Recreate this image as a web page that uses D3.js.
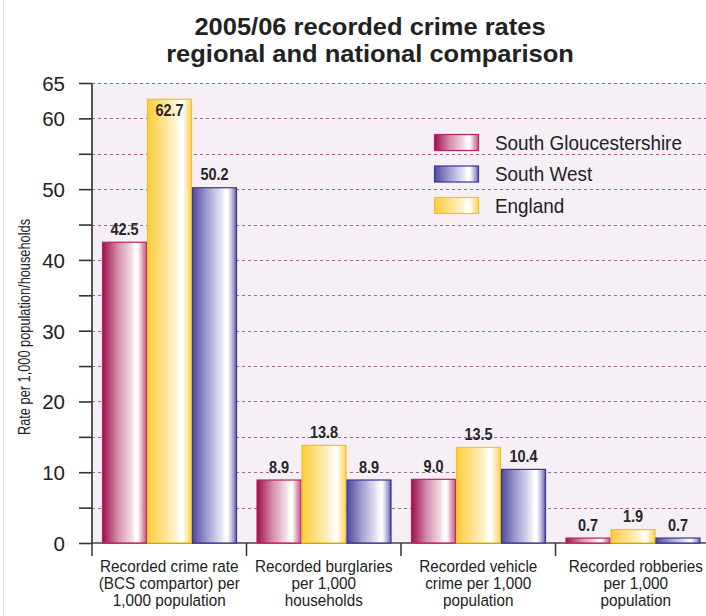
<!DOCTYPE html>
<html>
<head>
<meta charset="utf-8">
<script src="https://cdn.jsdelivr.net/npm/d3@7"></script>
<style>
  html, body { margin: 0; padding: 0; background: #ffffff; }
  svg { display: block; }
</style>
</head>
<body>
<svg id="chart" width="706" height="616"></svg>
<script>
// Crime rate categories (multi-line labels)
const categories = [
  ["Recorded crime rate", "(BCS compartor) per", "1,000 population"],
  ["Recorded burglaries", "per 1,000", "households"],
  ["Recorded vehicle", "crime per 1,000", "population"],
  ["Recorded robberies", "per 1,000", "population"]
];
// Series drawn left-to-right within each group
const seriesNames = ["South Gloucestershire", "England", "South West"];
const southGlos = [42.5, 8.9, 9.0, 0.7];
const england = [62.7, 13.8, 13.5, 1.9];
const southWest = [50.2, 8.9, 10.4, 0.7];
const legendOrder = ["South Gloucestershire", "South West", "England"];
const yTickLabels = [0, 10, 20, 30, 40, 50, 60, 65];

const seriesValues = {
  "South Gloucestershire": southGlos,
  "England": england,
  "South West": southWest
};

const palette = {
  "South Gloucestershire": { dark: "#a00e4c", mid: "#d58eab", light: "#f3dde6", edge: "#b8245f", rim: "#c8608a" },
  "South West": { dark: "#4f4a9f", mid: "#a5a2d1", light: "#e6e5f4", edge: "#3b3692", rim: "#5a56aa" },
  "England": { dark: "#fdcd3a", mid: "#fee18a", light: "#fff5d6", edge: "#f3bf2a", rim: "#fcd254" }
};

const FONT = "Liberation Sans, Arial, Helvetica, sans-serif";
const svg = d3.select("#chart");
const W = 706, H = 616;
const plotLeft = 92, plotTop = 83, plotBottom = 543;

const x0 = d3.scaleBand().domain(d3.range(categories.length)).range([plotLeft, 710]);
const x1 = d3.scaleBand().domain(seriesNames).range([10, 145]);
const y = d3.scaleLinear().domain([0, 65]).range([plotBottom, plotTop]);

// Place a text at (x, y) squeezed horizontally by sx (condensed face look)
function squeeze(sel, x, yy, sx) {
  return sel.attr("x", 0).attr("y", 0).attr("transform", `translate(${x},${yy}) scale(${sx},1)`);
}

// cylinder-like horizontal gradients
const defs = svg.append("defs");
Object.entries(palette).forEach(([name, c], i) => {
  const g = defs.append("linearGradient").attr("id", "grad" + i)
    .attr("x1", "0%").attr("x2", "100%").attr("y1", "0%").attr("y2", "0%");
  [[0, c.dark], [0.35, c.mid], [0.66, c.light], [0.75, "#ffffff"], [0.8, "#ffffff"],
   [0.84, c.light], [0.93, c.mid], [1, c.rim]].forEach(([o, col]) => g.append("stop").attr("offset", o).attr("stop-color", col));
  c.grad = "url(#grad" + i + ")";
});

// faint frame line on the left edge
svg.append("line").attr("x1", 3.5).attr("x2", 3.5).attr("y1", 0).attr("y2", H)
  .attr("stroke", "#e8e8e8").attr("stroke-width", 1);

// plot background
svg.append("rect").attr("x", plotLeft).attr("y", plotTop).attr("width", W - plotLeft).attr("height", plotBottom - plotTop)
  .attr("fill", "#f7eff6");

// dashed gridlines every 5
svg.append("g").selectAll("line").data(d3.range(5, 66, 5)).join("line")
  .attr("x1", plotLeft).attr("x2", W)
  .attr("y1", d => Math.round(y(d)) + 0.5).attr("y2", d => Math.round(y(d)) + 0.5)
  .attr("stroke", "#a5619d").attr("stroke-width", 1.2).attr("stroke-dasharray", "3,3");

// title
const titleLines = ["2005/06 recorded crime rates", "regional and national comparison"];
svg.append("g").selectAll("text").data(titleLines).join("text")
  .attr("text-anchor", "middle").attr("font-family", FONT).attr("font-weight", "bold")
  .attr("font-size", 24.5).attr("fill", "#222")
  .each(function(d, i) { squeeze(d3.select(this), 370, 35 + i * 27, 1.04); })
  .text(d => d);

// y axis
const yAxis = d3.axisLeft(y).tickValues(d3.range(0, 66, 5)).tickSize(13)
  .tickFormat(d => yTickLabels.includes(d) ? d : "");
const yg = svg.append("g").attr("transform", `translate(${plotLeft},0)`).call(yAxis);
yg.select(".domain").attr("stroke", "#555").attr("stroke-width", 2).attr("d", `M0,${plotTop}V${plotBottom}`);
yg.selectAll(".tick line").attr("stroke", "#333").attr("stroke-width", 1.6);
yg.selectAll(".tick text").attr("x", -27).attr("dy", "0.36em")
  .attr("font-family", FONT).attr("font-size", 20.5).attr("fill", "#222");

// y axis title
svg.append("text").attr("transform", `translate(30,327) rotate(-90) scale(0.8,1)`)
  .attr("text-anchor", "middle").attr("font-family", FONT)
  .attr("font-size", 16).attr("fill", "#222").text("Rate per 1,000 population/households");

// x axis
const xg = svg.append("g").attr("transform", `translate(0,${plotBottom})`)
  .call(d3.axisBottom(x0).tickValues([]).tickSize(0));
xg.select(".domain").attr("stroke", "#444").attr("stroke-width", 1.4).attr("d", `M${plotLeft},0H${W}`);
// category separator ticks
svg.append("g").selectAll("line").data(d3.range(categories.length)).join("line")
  .attr("x1", d => x0(d)).attr("x2", d => x0(d))
  .attr("y1", plotBottom).attr("y2", plotBottom + 13)
  .attr("stroke", "#333").attr("stroke-width", 1.5);

// category labels
svg.append("g").selectAll("g").data(categories).join("g")
  .each(function(lines, i) {
    const cx = x0(i) + x0.bandwidth() / 2 + (i === categories.length - 1 ? 3 : 0);
    d3.select(this).selectAll("text").data(lines).join("text")
      .attr("text-anchor", "middle").attr("font-family", FONT)
      .attr("font-size", 15.6).attr("fill", "#222")
      .each(function(ln, j) { squeeze(d3.select(this), cx, 572 + j * 16.8, 0.98); })
      .text(ln => ln);
  });

// bars
const groups = svg.append("g").selectAll("g").data(categories.map((c, i) => i)).join("g")
  .attr("transform", i => `translate(${x0(i)},0)`);
const cells = i => seriesNames.map(s => ({ s, v: seriesValues[s][i] }));
groups.selectAll("rect").data(cells).join("rect")
  .attr("x", d => x1(d.s) + 0.5).attr("width", x1.bandwidth() - 1)
  .attr("y", d => y(d.v)).attr("height", d => plotBottom - y(d.v))
  .attr("fill", d => palette[d.s].grad).attr("stroke", d => palette[d.s].edge).attr("stroke-width", 1.2);
groups.selectAll("text").data(cells).join("text")
  .attr("text-anchor", "middle").attr("font-family", FONT)
  .attr("font-weight", "bold").attr("font-size", 16.5).attr("fill", "#262626")
  .each(function(d) {
    const ty = d.v > 60 ? y(d.v) + 17 : y(d.v) - 7.5;
    squeeze(d3.select(this), x1(d.s) + x1.bandwidth() / 2, ty, 0.88);
  })
  .text(d => d.v.toFixed(1));

// legend
const leg = svg.append("g").selectAll("g").data(legendOrder).join("g")
  .attr("transform", (d, i) => `translate(434,${134 + i * 31.5})`);
leg.append("rect").attr("x", 0.5).attr("y", 0.5).attr("width", 44).attr("height", 16)
  .attr("fill", d => palette[d].grad).attr("stroke", d => palette[d].edge).attr("stroke-width", 1.2);
leg.append("text").attr("font-family", FONT).attr("font-size", 21).attr("fill", "#222")
  .each(function() { squeeze(d3.select(this), 61, 15.5, 0.9); })
  .text(d => d);
</script>
</body>
</html>
